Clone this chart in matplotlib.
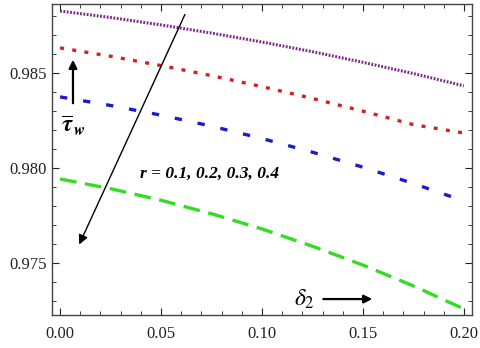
import numpy as np
import matplotlib.pyplot as plt
from matplotlib.ticker import MultipleLocator, FormatStrFormatter

# wall shear stress vs delta_2 for r = 0.1 .. 0.4
delta2 = [0.0, 0.025, 0.05, 0.075, 0.1, 0.125, 0.15, 0.175, 0.2]
tau_r1 = [0.98826, 0.98792, 0.98753, 0.98710, 0.98663, 0.98612, 0.98556, 0.98497, 0.98432]
tau_r2 = [0.98632, 0.98588, 0.98539, 0.98486, 0.98428, 0.98366, 0.98299, 0.98228, 0.98184]
tau_r3 = [0.98374, 0.98329, 0.98278, 0.98220, 0.98155, 0.98083, 0.98004, 0.97918, 0.97826]
tau_r4 = [0.97942, 0.97891, 0.97830, 0.97759, 0.97679, 0.97588, 0.97489, 0.97379, 0.97258]

plt.rcParams['font.family'] = ['Liberation Serif', 'DejaVu Serif']

fig = plt.figure(figsize=(4.8, 3.48), dpi=100)
ax = fig.add_axes([0.1083, 0.0948, 0.875, 0.8937])

ax.plot(delta2, tau_r1, color='#7a2a86', lw=2.2, ls=(0, (0.6, 0.5)))
ax.plot(delta2, tau_r2, color='#d42020', lw=2.4, ls=(0, (1.2, 2.5)))
ax.plot(delta2, tau_r3, color='#1a1ad0', lw=2.4, ls=(0, (2.2, 4.8)))
ax.plot(delta2, tau_r4, color='#33dd22', lw=2.4, ls=(0, (5.0, 2.6)))

ax.set_xlim(-0.004, 0.204)
ax.set_ylim(0.97226, 0.98863)

ax.xaxis.set_major_locator(MultipleLocator(0.05))
ax.xaxis.set_minor_locator(MultipleLocator(0.01))
ax.yaxis.set_major_locator(MultipleLocator(0.005))
ax.yaxis.set_minor_locator(MultipleLocator(0.001))
ax.xaxis.set_major_formatter(FormatStrFormatter('%.2f'))
ax.yaxis.set_major_formatter(FormatStrFormatter('%.3f'))
ax.tick_params(which='both', direction='in', top=True, right=True, labelsize=12,
               colors='#222222')
ax.tick_params(axis='x', pad=8)
ax.tick_params(which='major', length=5)
ax.tick_params(which='minor', length=3)
for s in ax.spines.values():
    s.set_linewidth(1.0)
    s.set_color('#444444')

# big arrow across the curves
ax.annotate('', xy=(0.0089, 0.97584), xytext=(0.0624, 0.98821),
            arrowprops=dict(arrowstyle='-|>', color='black', lw=1.0, mutation_scale=14))
# small up arrow for tau_w
ax.annotate('', xy=(0.0064, 0.98584), xytext=(0.0064, 0.98326),
            arrowprops=dict(arrowstyle='-|>', color='black', lw=1.6, mutation_scale=12))
ax.text(0.0005, 0.9822, r'$\overline{\boldsymbol{\tau}}_{\,\boldsymbol{w}}$', fontsize=17,
        ha='left', va='center', math_fontfamily='stix')

ax.text(0.0395, 0.9797, 'r = 0.1, 0.2, 0.3, 0.4', fontsize=12.5, style='italic',
        fontweight='bold', ha='left', va='center')

ax.text(0.116, 0.9731, r'$\boldsymbol{\delta_2}$', fontsize=17, math_fontfamily='stix',
        ha='left', va='center')
ax.annotate('', xy=(0.156, 0.9731), xytext=(0.129, 0.9731),
            arrowprops=dict(arrowstyle='-|>', color='black', lw=1.6, mutation_scale=12))

fig.savefig('out.png', dpi=100)
